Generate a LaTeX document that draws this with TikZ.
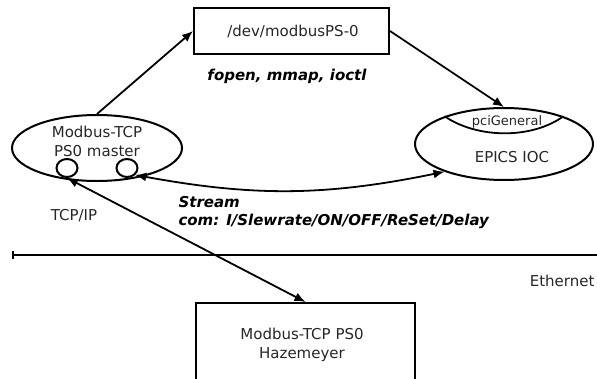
\documentclass[tikz,border=0pt]{standalone}
\usepackage{fontspec}
\setmainfont{DejaVu Sans}
\usetikzlibrary{arrows.meta,shapes.geometric}
\begin{document}
\begin{tikzpicture}[x=1pt,y=-1pt,
  every node/.style={font=\fontsize{15}{19}\selectfont, text=black!85},
  box/.style={draw, line width=2pt, inner sep=0pt},
  ell/.style={draw, ellipse, line width=2pt, inner sep=0pt},
  port/.style={draw, ellipse, line width=2pt, inner sep=0pt, minimum width=21, minimum height=18},
  conn/.style={line width=1.8pt, -{Latex[length=11pt,width=9pt]}},
  dconn/.style={line width=1.8pt, {Latex[length=11pt,width=9pt]}-{Latex[length=11pt,width=9pt]}},
  lbl/.style={font=\fontsize{15}{19}\selectfont\bfseries\itshape, text=black},
  txt/.style={align=center}
]
\useasboundingbox (0,0) rectangle (597,378);
% nodes
\node[box, minimum width=195, minimum height=46] (dev) at (291.5,31) {};
\node[txt] (devt) at (293,31) {/dev/modbusPS-0};
\node[ell, minimum width=170, minimum height=66] (m) at (97,148) {};
\node[txt] (mt) at (97,141) {Modbus-TCP\\PS0 master};
\node[port] (c1) at (67,168) {};
\node[port] (c2) at (127,168) {};
\node[ell, minimum width=178, minimum height=72] (ioc) at (504,144) {};
\node[font=\fontsize{13}{15}\selectfont] (pci) at (507,122) {pciGeneral};
\node (epics) at (512,157) {EPICS IOC};
\draw[line width=1.8pt] (ioc.155) .. controls (478,139) and (532,139) .. (ioc.25);
\node[box, minimum width=219, minimum height=100, anchor=north] (haz) at (305.5,302) {};
\node[txt] (hazt) at (302,345) {Modbus-TCP PS0\\Hazemeyer};
% labels
\node[lbl] (fop) at (287,76) {fopen, mmap, ioctl};
\node[lbl, anchor=west] (stream) at (175,202) {Stream};
\node[lbl, anchor=west] (com) at (175,221) {com: I/Slewrate/ON/OFF/ReSet/Delay};
\node (tcp) at (74,216) {TCP/IP};
\node[anchor=east] (eth) at (598,281) {Ethernet};
% ethernet line
\coordinate (el) at (12,255);
\coordinate (er) at (600,255);
\draw[line width=2pt, {Bar[width=8pt,line width=2pt]}-{Bar[width=8pt,line width=2pt]}] (el) -- (er);
% connectors
\draw[conn] (m.north) -- (dev.west);
\draw[conn] (dev.east) -- (ioc.north);
\draw[dconn] (c2.-40) to[bend right=11] (ioc.205);
\draw[dconn] (c1.south) -- (haz.north);
\end{tikzpicture}
\end{document}
